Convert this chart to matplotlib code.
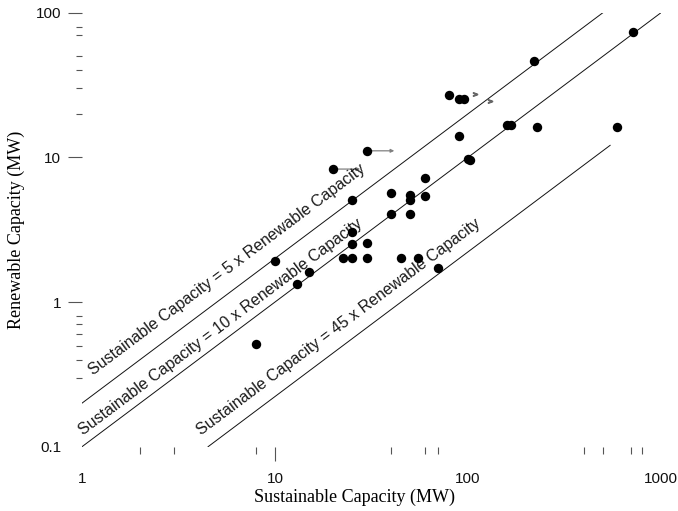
import numpy as np
import matplotlib
matplotlib.use('Agg')
import matplotlib.pyplot as plt
from matplotlib.ticker import FixedLocator, FixedFormatter, NullFormatter

# Data (MW)
sustainable = [8, 10, 13, 15, 22.4, 25, 30, 45, 55, 70,
               25, 25, 30, 40, 50, 25, 40, 50, 50, 60, 60,
               90, 100, 102, 80, 90, 95, 160, 167, 219, 228, 595, 713,
               20, 30]
renewable = [0.51, 1.92, 1.33, 1.62, 2.02, 2.02, 2.02, 2.02, 2.02, 1.73,
             3.06, 2.5, 2.55, 4.06, 4.06, 5.07, 5.65, 5.49, 5.07, 5.41, 7.2,
             14.1, 9.8, 9.55, 27.0, 25.2, 25.2, 16.8, 16.8, 46.4, 16.2, 16.3, 74,
             8.3, 11.1]

# arrows (sustainable capacity shown as a lower bound)
arrow_from = [20, 30]
arrow_to = [27.6, 41.5]
arrow_y = [8.3, 11.1]
# arrow heads with no visible shaft
head_x = [109, 130]
head_y = [27.3, 24.6]

# reference lines: sustainable = ratio x renewable
ratios = [5, 10, 45]
line_start = [1, 1, 4.5]
line_end = [500, 1000, 545]
line_labels = ['Sustainable Capacity = 5 x Renewable Capacity',
               'Sustainable Capacity = 10 x Renewable Capacity',
               'Sustainable Capacity = 45 x Renewable Capacity']
label_pos = [(1.14, 0.31), (1.02, 0.12), (4.14, 0.119)]

x_major = [1, 10, 100, 1000]
x_major_labels = ['1', '10', '100', '1000']
x_minor = [2, 3, 8, 40, 60, 70, 400, 500, 700, 800]
y_major = [0.1, 1, 10, 100]
y_major_labels = ['0.1', '1', '10', '100']
y_minor = [0.3, 0.4, 0.5, 0.6, 0.7, 0.8, 20, 30, 40, 50, 70, 80]

sans = 'Liberation Sans'
serif = 'Liberation Serif'

fig = plt.figure(figsize=(6.78, 5.11), dpi=100)
ax = fig.add_axes([82 / 678, 1 - 446.7 / 511, 579 / 678, 434 / 511])
ax.set_xscale('log')
ax.set_yscale('log')
ax.set_xlim(1, 1000)
ax.set_ylim(0.1, 100)
for s in ax.spines.values():
    s.set_visible(False)

# reference lines with labels
for r, x0, x1, lab, (tx, ty) in zip(ratios, line_start, line_end, line_labels, label_pos):
    xs = np.array([x0, x1])
    ax.plot(xs, xs / r, color='#111', lw=0.7, zorder=1)
    p0 = ax.transData.transform((x0, x0 / r))
    p1 = ax.transData.transform((x1, x1 / r))
    ang = np.degrees(np.arctan2(p1[1] - p0[1], p1[0] - p0[0]))
    ax.text(tx, ty, lab, rotation=ang, rotation_mode='anchor',
            ha='left', va='baseline', fontsize=11.5, family=sans, color='#1a1a1a')

for x0, x1, y in zip(arrow_from, arrow_to, arrow_y):
    ax.annotate('', xy=(x1, y), xytext=(x0, y),
                arrowprops=dict(arrowstyle='-|>', color='#808080', lw=0.9,
                                mutation_scale=5, shrinkA=0, shrinkB=0), zorder=2)
ax.plot(head_x, head_y, ls='none', marker=r'$>$', markersize=3, color='#666')

ax.scatter(sustainable, renewable, s=46, color='black', zorder=3, linewidths=0)

# ticks
ax.xaxis.set_major_locator(FixedLocator(x_major))
ax.xaxis.set_major_formatter(FixedFormatter(x_major_labels))
ax.xaxis.set_minor_locator(FixedLocator(x_minor))
ax.xaxis.set_minor_formatter(NullFormatter())
ax.yaxis.set_major_locator(FixedLocator(y_major))
ax.yaxis.set_major_formatter(FixedFormatter(y_major_labels))
ax.yaxis.set_minor_locator(FixedLocator(y_minor))
ax.yaxis.set_minor_formatter(NullFormatter())

ax.tick_params(axis='x', which='major', length=10, width=0.8, color='#555', pad=8,
               labelsize=11)
ax.tick_params(axis='x', which='minor', length=5, width=0.8, color='#555')
ax.tick_params(axis='y', which='major', length=10, width=0.8, color='#555', pad=5,
               labelsize=11)
ax.tick_params(axis='y', which='minor', length=4.3, width=0.8, color='#555')
for lab in ax.get_xticklabels() + ax.get_yticklabels():
    lab.set_family(sans)
    lab.set_color('#111')

# only some major ticks have a mark
for t, v in zip(ax.xaxis.get_major_ticks(), x_major):
    if v != 10:
        t.tick1line.set_visible(False)
for t, v in zip(ax.yaxis.get_major_ticks(), y_major):
    if v == 0.1:
        t.tick1line.set_visible(False)

ax.set_xlabel('Sustainable Capacity (MW)', family=serif, fontsize=13)
ax.set_ylabel('Renewable Capacity (MW)', family=serif, fontsize=13)
ax.xaxis.set_label_coords((354 - 82) / 579, (446.7 - 497) / 434)
ax.xaxis.label.set_va('center')
ax.yaxis.set_label_coords((16 - 82) / 579, 0.5)
ax.yaxis.label.set_va('center')

fig.savefig('out.png', dpi=100)
